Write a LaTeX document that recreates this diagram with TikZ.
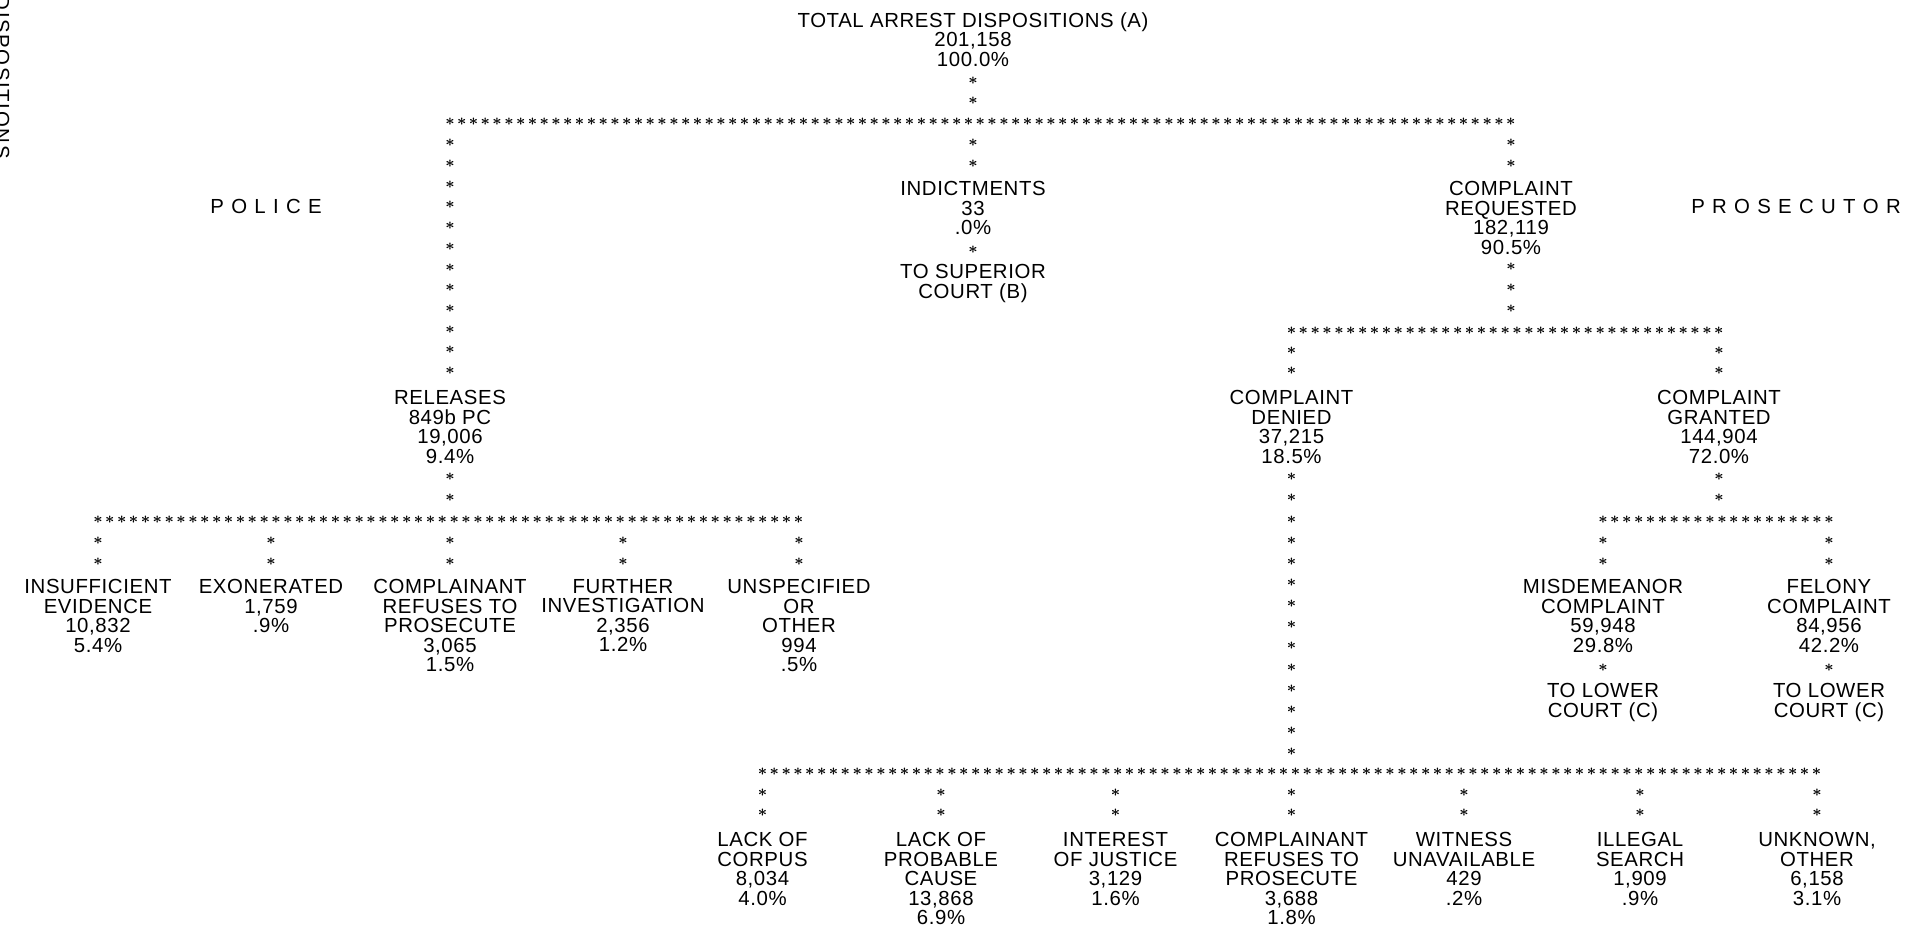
\documentclass[tikz,border=0pt]{standalone}
\usepackage{fontspec}
\setmainfont{Liberation Sans}[LetterSpace=3]
\newfontfamily\sidefont{Liberation Sans}[LetterSpace=8]
\usetikzlibrary{decorations.markings}
\tikzset{
  lbl/.style={align=center, inner sep=0pt, anchor=north, font=\fontsize{11.6}{11.1}\selectfont},
  side/.style={inner sep=0pt, font=\fontsize{11.6}{11.1}\sidefont},
  sm/.style={inner sep=0pt, font=\fontsize{9}{9}\selectfont\boldmath},
  stars/.style={postaction={decorate}, decoration={markings, mark=between positions 0 and 1 step #1 with {\node[sm] {$\ast$};}}},
  onestar/.style={postaction={decorate}, decoration={markings, mark=at position 0.5 with {\node[sm] {$\ast$};}}}
}
\begin{document}
\begin{tikzpicture}[x=0.02cm, y=-0.02cm]
\useasboundingbox (0,0) rectangle (1916,937);
\clip (0,0) rectangle (1916,937);

% side labels
\node[side, rotate=-90, anchor=base east] (DISP) at (-5,159) {OF DISPOSITIONS};
\node[side] (POL) at (266,206) {P O L I C E};
\node[side] (PRO) at (1796,206) {P R O S E C U T O R};

% text nodes
\node[lbl] (T) at (973,12) {TOTAL ARREST DISPOSITIONS (A)\\201,158\\100.0\%};
\node[lbl] (IND) at (973,181) {INDICTMENTS\\33\\.0\%};
\node[lbl] (TSC) at (973,264) {TO SUPERIOR\\COURT (B)};
\node[lbl] (CR) at (1511,181) {COMPLAINT\\REQUESTED\\182,119\\90.5\%};
\node[lbl] (REL) at (450,390) {RELEASES\\849b PC\\19,006\\9.4\%};
\node[lbl] (CD) at (1291.5,390) {COMPLAINT\\DENIED\\37,215\\18.5\%};
\node[lbl] (CG) at (1719,390) {COMPLAINT\\GRANTED\\144,904\\72.0\%};
\node[lbl] (P1) at (98,579) {INSUFFICIENT\\EVIDENCE\\10,832\\5.4\%};
\node[lbl] (P2) at (271,579) {EXONERATED\\1,759\\.9\%};
\node[lbl] (P3) at (450,579) {COMPLAINANT\\REFUSES TO\\PROSECUTE\\3,065\\1.5\%};
\node[lbl] (P4) at (623,579) {FURTHER\\INVESTIGATION\\2,356\\1.2\%};
\node[lbl] (P5) at (799,579) {UNSPECIFIED\\OR\\OTHER\\994\\.5\%};
\node[lbl] (MC) at (1603,579) {MISDEMEANOR\\COMPLAINT\\59,948\\29.8\%};
\node[lbl] (FC) at (1829,579) {FELONY\\COMPLAINT\\84,956\\42.2\%};
\node[lbl] (LC1) at (1603,683) {TO LOWER\\COURT (C)};
\node[lbl] (LC2) at (1829,683) {TO LOWER\\COURT (C)};
\node[lbl] (B1) at (762.5,832) {LACK OF\\CORPUS\\8,034\\4.0\%};
\node[lbl] (B2) at (941,832) {LACK OF\\PROBABLE\\CAUSE\\13,868\\6.9\%};
\node[lbl] (B3) at (1115.5,832) {INTEREST\\OF JUSTICE\\3,129\\1.6\%};
\node[lbl] (B4) at (1291.5,832) {COMPLAINANT\\REFUSES TO\\PROSECUTE\\3,688\\1.8\%};
\node[lbl] (B5) at (1464,832) {WITNESS\\UNAVAILABLE\\429\\.2\%};
\node[lbl] (B6) at (1640,832) {ILLEGAL\\SEARCH\\1,909\\.9\%};
\node[lbl] (B7) at (1817,832) {UNKNOWN,\\OTHER\\6,158\\3.1\%};

% junction coordinates
\coordinate (t1) at (973,81);   \coordinate (t2) at (973,101);
\coordinate (b1L) at (450,122); \coordinate (b1R) at (1511,122);
\coordinate (l1) at (450,143);  \coordinate (l2) at (450,371);
\coordinate (m1) at (973,143);  \coordinate (m2) at (973,164);
\coordinate (r1) at (1511,143); \coordinate (r2) at (1511,164);
\coordinate (r3) at (1511,267); \coordinate (r4) at (1511,309);
\coordinate (b2L) at (1291.5,331); \coordinate (b2R) at (1719,331);
\coordinate (d1) at (1291.5,351); \coordinate (d2) at (1291.5,371);
\coordinate (g1) at (1719,351); \coordinate (g2) at (1719,371);
\coordinate (e1) at (450,477);  \coordinate (e2) at (450,498);
\coordinate (b3L) at (98,520);  \coordinate (b3R) at (799,520);
\coordinate (g3) at (1719,477); \coordinate (g4) at (1719,498);
\coordinate (b4L) at (1603,520); \coordinate (b4R) at (1829,520);
\coordinate (d3) at (1291.5,477); \coordinate (d4) at (1291.5,752);
\coordinate (b5L) at (762.5,772); \coordinate (b5R) at (1817,772);

% star connectors
\path[stars=0.9999] (t1) -- (t2);
\path[stars=0.01111] (b1L) -- (b1R);
\path[stars=0.09090] (l1) -- (l2);
\path[stars=0.9999] (m1) -- (m2);
\path[stars=0.9999] (r1) -- (r2);
\path[onestar] (IND) -- (TSC);
\path[stars=0.4999] (r3) -- (r4);
\path[stars=0.02777] (b2L) -- (b2R);
\path[stars=0.9999] (d1) -- (d2);
\path[stars=0.9999] (g1) -- (g2);
\path[stars=0.9999] (e1) -- (e2);
\path[stars=0.01694] (b3L) -- (b3R);
\path[stars=0.9999] (g3) -- (g4);
\path[stars=0.05263] (b4L) -- (b4R);
\path[stars=0.07692] (d3) -- (d4);
\path[stars=0.01123] (b5L) -- (b5R);
\foreach \n/\x in {P1/98, P2/271, P3/450, P4/623, P5/799, MC/1603, FC/1829} {
  \coordinate (\n a) at (\x,541); \coordinate (\n b) at (\x,562);
  \path[stars=0.9999] (\n a) -- (\n b);
}
\foreach \n/\x in {B1/762.5, B2/941, B3/1115.5, B4/1291.5, B5/1464, B6/1640, B7/1817} {
  \coordinate (\n a) at (\x,793); \coordinate (\n b) at (\x,813);
  \path[stars=0.9999] (\n a) -- (\n b);
}
\path[onestar] (MC) -- (LC1);
\path[onestar] (FC) -- (LC2);
\end{tikzpicture}
\end{document}
